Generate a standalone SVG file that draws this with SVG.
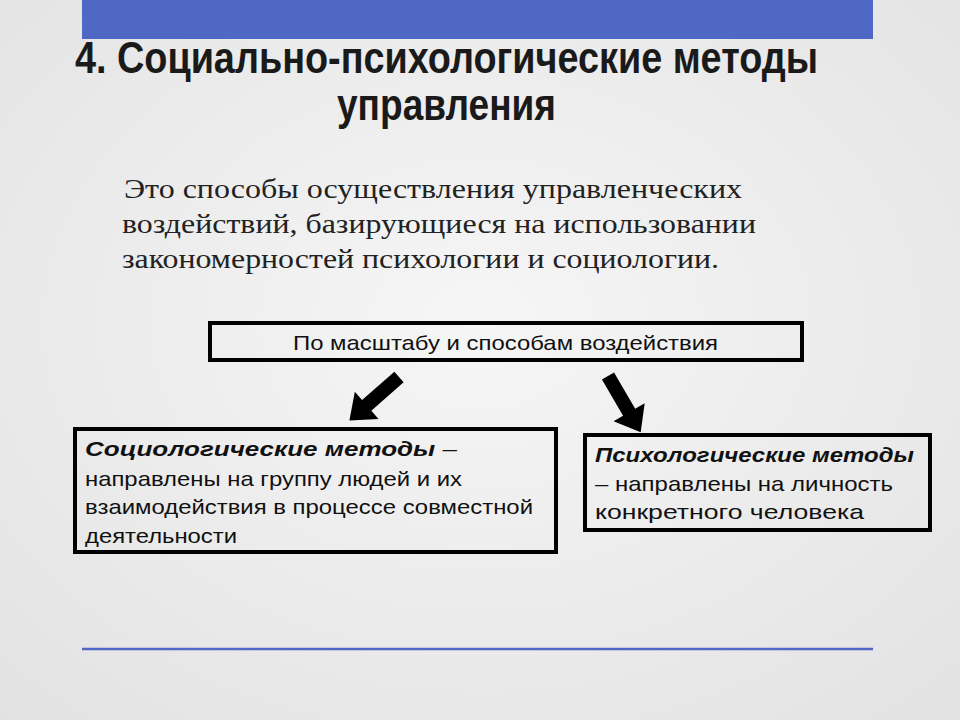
<svg xmlns="http://www.w3.org/2000/svg" width="960" height="720" viewBox="0 0 960 720">
<defs>
<radialGradient id="bg" cx="50%" cy="45%" r="75%"><stop offset="0" stop-color="#f6f6f6"/><stop offset="1" stop-color="#e2e2e2"/></radialGradient>
<style>
.t{font-family:"Liberation Sans Narrow","Liberation Sans",sans-serif;font-weight:bold;font-size:44px;fill:#1a1a1a}
.b{font-family:"Liberation Serif",serif;font-size:28px;fill:#222}
.s{font-family:"Liberation Sans",Arial,sans-serif;font-size:21px;fill:#111}
.box{fill:none;stroke:#000;stroke-width:4}
</style>
</defs>
<rect width="960" height="720" fill="url(#bg)"/>
<rect x="82" y="0" width="791" height="39" fill="#4f68c6"/>
<text class="t" x="75" y="73" textLength="743" lengthAdjust="spacingAndGlyphs">4.  Социально-психологические методы</text>
<text class="t" x="337" y="120" textLength="219" lengthAdjust="spacingAndGlyphs">управления</text>
<text class="b" x="124" y="198" textLength="618" lengthAdjust="spacingAndGlyphs">Это способы осуществления управленческих</text>
<text class="b" x="122" y="233" textLength="634" lengthAdjust="spacingAndGlyphs">воздействий, базирующиеся на использовании</text>
<text class="b" x="122" y="268" textLength="597" lengthAdjust="spacingAndGlyphs">закономерностей психологии и социологии.</text>
<g id="top"><rect class="box" x="210" y="323" width="592" height="37"/>
<text class="s" x="293" y="350" textLength="425" lengthAdjust="spacingAndGlyphs">По масштабу и способам воздействия</text></g>
<g id="socio"><rect class="box" x="75" y="429" width="481" height="123"/>
<text class="s" x="85" y="456" textLength="372" lengthAdjust="spacingAndGlyphs"><tspan font-weight="bold" font-style="italic">Социологические методы</tspan> –</text>
<text class="s" x="85" y="486" textLength="377" lengthAdjust="spacingAndGlyphs">направлены на группу людей и их</text>
<text class="s" x="85" y="514" textLength="448" lengthAdjust="spacingAndGlyphs">взаимодействия в процессе совместной</text>
<text class="s" x="85" y="543" textLength="152" lengthAdjust="spacingAndGlyphs">деятельности</text></g>
<g id="psycho"><rect class="box" x="585" y="435" width="345" height="95"/>
<text class="s" x="595" y="462" font-weight="bold" font-style="italic" textLength="319" lengthAdjust="spacingAndGlyphs">Психологические методы</text>
<text class="s" x="595" y="491" textLength="298" lengthAdjust="spacingAndGlyphs">– направлены на личность</text>
<text class="s" x="595" y="519" textLength="269" lengthAdjust="spacingAndGlyphs">конкретного человека</text></g>
<g id="connectors" fill="#000">
<polygon transform="translate(399,377) rotate(138.7)" points="0,-7 43,-7 43,-18 66,0 43,18 43,7 0,7"/>
<polygon transform="translate(608,376) rotate(59.8)" points="0,-7 42,-7 42,-18 65,0 42,18 42,7 0,7"/>
</g>
<line x1="82" y1="649" x2="873" y2="649" stroke="#4f68c6" stroke-width="2.5"/>
</svg>
